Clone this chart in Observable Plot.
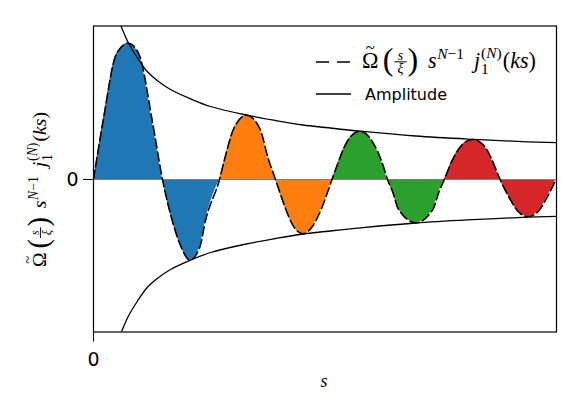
<!DOCTYPE html>
<html>
<head>
<meta charset="utf-8">
<script src="https://cdn.jsdelivr.net/npm/d3@7"></script>
<script src="https://cdn.jsdelivr.net/npm/@observablehq/plot@0.6"></script>
<style>
  html, body { margin: 0; padding: 0; background: white; }
  svg { display: block; }
</style>
</head>
<body>
<script>
// ---- data ----
// oscillating curve: s, value
const curveS = [0, 0.97, 2.3, 3.47, 4.53, 5.87, 6.9,
  7.87, 8.77, 9.63, 10.63, 11.2, 12.6,
  13.13, 14.03, 15.3, 16.63, 17.47, 18.2,
  19.2, 19.93, 20.95, 21.97, 22.8, 23.85,
  24.37, 25.35, 26.63, 27.9, 28.95, 29.4,
  29.93, 30.47, 32.25, 33.97, 34.53, 35.08,
  35.95, 36.8, 37.9, 39.05, 39.8, 40.66,
  41.64, 42.37, 43.45, 44.54, 45.27, 46.25];
const curveV = [0, 5.9, 12.57, 13.63, 12.57, 5.9, 0,
  -4.1, -6.77, -8.05, -6.77, -4.1, 0,
  2.1, 5.1, 6.42, 5.1, 2.1, 0,
  -2.9, -4.57, -5.42, -4.57, -2.9, 0,
  1.43, 3.77, 4.83, 3.77, 1.43, 0,
  -1.27, -2.93, -4.33, -2.93, -1.27, 0,
  2.07, 3.4, 4.0, 3.4, 2.07, 0,
  -1.93, -3.1, -3.72, -3.1, -1.93, 0];
// colour bands start at these zero crossings
const bandStart = [0, 12.6, 23.85, 35.08];
const bandEnd = 46.25;
const bandNames = ["band1", "band2", "band3", "band4"];
const bandColors = ["#1f77b4", "#ff7f0e", "#2ca02c", "#d62728"];
// amplitude envelope (drawn as +/-)
const ampS = [2.75, 3.47, 4.37, 5.37, 6.37, 7.7, 9.7, 11.7, 15.27, 18.2, 20.95, 23.2, 26.7, 32.2, 37.9, 43.4, 46.3];
const ampV = [15.35, 13.7, 12.2, 10.8, 9.9, 9.0, 8.07, 7.3, 6.45, 5.9, 5.45, 5.2, 4.83, 4.35, 4.02, 3.77, 3.68];
const xTicks = [0];
const yTicks = [0];

// ---- build tables ----
const curve = curveS.map((s, i) => ({s, v: curveV[i]}));
const areaRows = [];
bandStart.forEach((b, i) => {
  const e = i + 1 < bandStart.length ? bandStart[i + 1] : bandEnd;
  curve.filter(d => d.s >= b - 1e-9 && d.s <= e + 1e-9)
       .forEach(d => areaRows.push({s: d.s, v: d.v, band: bandNames[i]}));
});
const ampUpper = ampS.map((s, i) => ({s, v: ampV[i]}));
const ampLower = ampS.map((s, i) => ({s, v: -ampV[i]}));

const sansFont = "'DejaVu Sans', sans-serif";
const chart = Plot.plot({
  width: 581,
  height: 416,
  marginLeft: 93,
  marginRight: 25,
  marginTop: 25.5,
  marginBottom: 84.5,
  style: {fontFamily: sansFont, fontSize: "19px", background: "white", overflow: "visible"},
  x: {domain: [0, 46.3], label: null},
  y: {domain: [-15.25, 15.35], label: null},
  color: {domain: bandNames, range: bandColors},
  marks: [
    Plot.areaY(areaRows, {x: "s", y: "v", fill: "band", curve: "monotone-x", clip: true}),
    Plot.ruleY([0], {stroke: "#7f7f7f", strokeWidth: 1.1}),
    Plot.line(curve, {x: "s", y: "v", stroke: "black", strokeWidth: 1.6, strokeDasharray: "9,4", curve: "monotone-x", clip: true}),
    Plot.line(ampUpper, {x: "s", y: "v", stroke: "black", strokeWidth: 1.3, curve: "catmull-rom", clip: true}),
    Plot.line(ampLower, {x: "s", y: "v", stroke: "black", strokeWidth: 1.3, curve: "catmull-rom", clip: true}),
    Plot.frame({stroke: "black", strokeWidth: 1.2}),
    Plot.axisX({ticks: xTicks, tickFormat: d => String(d), tickSize: 10, tickPadding: 10, fontSize: 19, label: null, stroke: "black"}),
    Plot.axisY({ticks: yTicks, tickFormat: d => String(d), tickSize: 10, tickPadding: 5, fontSize: 19, label: null, stroke: "black"})
  ]
});
document.body.appendChild(chart);

// ---- math text, legend and axis labels ----
const NS = "http://www.w3.org/2000/svg";
function el(tag, attrs, parent) {
  const e = document.createElementNS(NS, tag);
  for (const k in attrs) e.setAttribute(k, attrs[k]);
  parent.appendChild(e);
  return e;
}
const serif = "'Liberation Serif', 'DejaVu Serif', serif";
function txt(parent, str, x, y, size, italic, anchor) {
  const t = el("text", {x, y, "font-size": size, "font-family": serif,
    "font-style": italic ? "italic" : "normal", fill: "black", "text-anchor": anchor || "start"}, parent);
  t.textContent = str;
  return t.getComputedTextLength();
}
function drawMath(g, fs) {
  let x = 0;
  // Omega with tilde accent, in one text element
  const tO = el("text", {x, y: 0, "font-size": fs, "font-family": serif, fill: "black", "text-anchor": "start"}, g);
  const sO = el("tspan", {}, tO); sO.textContent = "Ω";
  const wO = sO.getComputedTextLength();
  const sT = el("tspan", {"font-size": fs * 0.75}, tO); sT.textContent = "~";
  const wT = sT.getComputedTextLength();
  sT.setAttribute("dx", -(wO + wT) / 2);
  sT.setAttribute("dy", -fs * 0.68);
  x += wO + fs * 0.2;
  x += txt(g, "(", x, fs * 0.1, fs * 1.45, false);
  const fw = fs * 0.55, cx = x + fw / 2 + fs * 0.04;
  txt(g, "s", cx, -fs * 0.38, fs * 0.62, true, "middle");
  txt(g, "ξ", cx, fs * 0.24, fs * 0.62, true, "middle");
  el("line", {x1: cx - fw / 2, x2: cx + fw / 2, y1: -fs * 0.28, y2: -fs * 0.28, stroke: "black", "stroke-width": fs * 0.045}, g);
  x += fw + fs * 0.08;
  x += txt(g, ")", x, fs * 0.1, fs * 1.45, false);
  x += fs * 0.45;
  x += txt(g, "s", x, 0, fs, true);
  x += fs * 0.03;
  const t1 = el("text", {x, y: -fs * 0.42, "font-size": fs * 0.7, "font-family": serif, fill: "black", "text-anchor": "start"}, g);
  const a = el("tspan", {"font-style": "italic"}, t1); a.textContent = "N";
  const b = el("tspan", {}, t1); b.textContent = "−1";
  x += t1.getComputedTextLength();
  x += fs * 0.45;
  x += txt(g, "j", x, 0, fs, true);
  x += fs * 0.04;
  const w1 = txt(g, "1", x, fs * 0.28, fs * 0.7, false);
  const t2 = el("text", {x, y: -fs * 0.45, "font-size": fs * 0.7, "font-family": serif, fill: "black", "text-anchor": "start"}, g);
  const c1 = el("tspan", {}, t2); c1.textContent = "(";
  const c2 = el("tspan", {"font-style": "italic"}, t2); c2.textContent = "N";
  const c3 = el("tspan", {}, t2); c3.textContent = ")";
  x += Math.max(w1, t2.getComputedTextLength()) + fs * 0.05;
  x += txt(g, "(", x, 0, fs, false);
  x += txt(g, "ks", x, 0, fs, true);
  x += txt(g, ")", x, 0, fs, false);
  return x;
}
function placeMath(parent, targetWidth, transformPre, centered) {
  const outer = el("g", {}, parent);
  const inner = el("g", {}, outer);
  const w = drawMath(inner, 20);
  const k = targetWidth / w;
  outer.setAttribute("transform", transformPre);
  inner.setAttribute("transform", `scale(${k}) translate(${centered ? -w / 2 : 0},0)`);
}

// legend
const leg = el("g", {"text-anchor": "start"}, chart);
el("line", {x1: 316, x2: 350, y1: 62, y2: 62, stroke: "black", "stroke-width": 1.5, "stroke-dasharray": "13,8"}, leg);
placeMath(leg, 174, "translate(362,68)", false);
el("line", {x1: 316, x2: 351, y1: 94, y2: 94, stroke: "black", "stroke-width": 1.3}, leg);
const amp = el("text", {x: 365, y: 100, "font-size": 16, "font-family": sansFont, fill: "black", "text-anchor": "start"}, leg);
amp.textContent = "Amplitude";

// y label (rotated)
const yl = el("g", {"text-anchor": "start"}, chart);
placeMath(yl, 155, "translate(46,189.5) rotate(-90)", true);

// x label
const xl = el("text", {x: 324, y: 387, "font-size": 18, "font-family": serif, "font-style": "italic", "text-anchor": "middle", fill: "black"}, chart);
xl.textContent = "s";
</script>
</body>
</html>
